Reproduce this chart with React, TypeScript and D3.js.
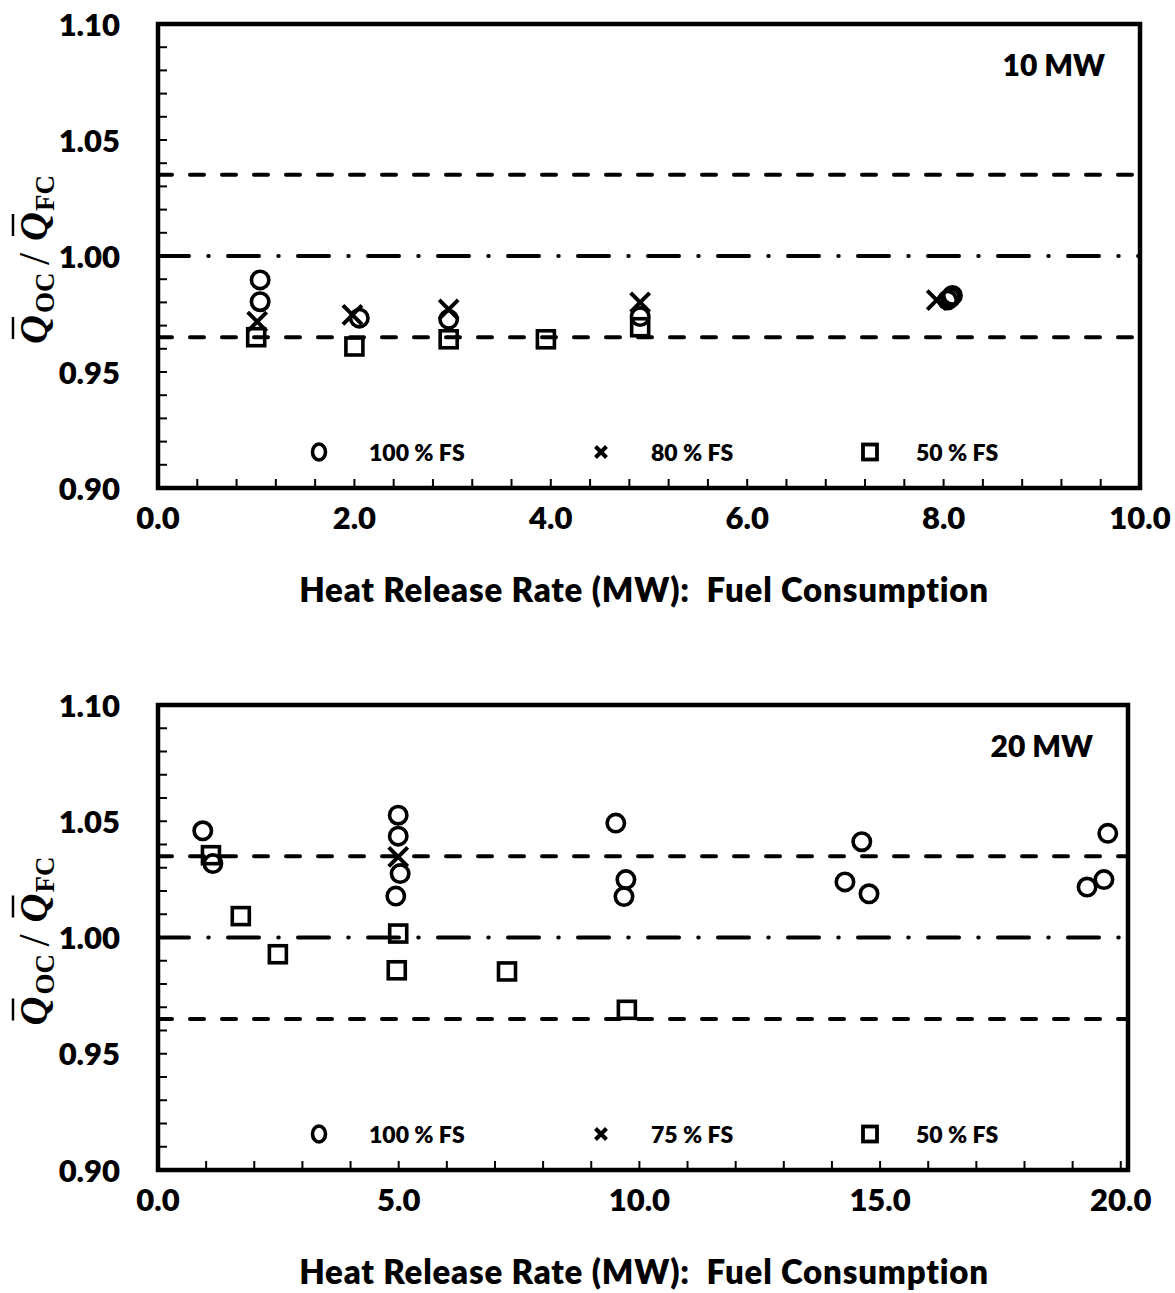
import React from 'react';
import * as d3 from 'd3';

// y axis (both panels)
const yTicks = [0.9, 0.95, 1.0, 1.05, 1.1];
const refLines = [1.035, 1.0, 0.965];

// 10 MW panel
const x10Ticks = [0, 2, 4, 6, 8, 10];
const hrr10_fs100 = [1.04, 1.04, 2.05, 2.96, 4.91, 8.04, 8.07, 8.09];
const ratio10_fs100 = [0.9897, 0.9803, 0.9732, 0.9727, 0.9739, 0.981, 0.982, 0.983];
const hrr10_fs80 = [1.01, 1.98, 2.96, 4.91, 7.93];
const ratio10_fs80 = [0.9717, 0.9746, 0.977, 0.98, 0.981];
const hrr10_fs50 = [1.0, 2.0, 2.96, 3.95, 4.91];
const ratio10_fs50 = [0.965, 0.961, 0.9641, 0.9641, 0.9693];

// 20 MW panel
const x20Ticks = [0, 5, 10, 15, 20];
const hrr20_fs100 = [0.93, 1.14, 4.99, 4.99, 5.03, 4.94, 9.51, 9.72, 9.68, 14.62, 14.27, 14.77, 19.73, 19.65, 19.3];
const ratio20_fs100 = [1.0459, 1.0318, 1.0526, 1.0436, 1.0275, 1.0178, 1.0492, 1.0249, 1.0176, 1.0412, 1.0239, 1.0188, 1.0448, 1.0249, 1.0217];
const hrr20_fs75 = [4.99];
const ratio20_fs75 = [1.0347];
const hrr20_fs50 = [1.1, 1.72, 2.49, 4.99, 4.96, 7.25, 9.74];
const ratio20_fs50 = [1.0354, 1.0092, 0.9928, 1.0017, 0.9859, 0.9854, 0.9689];

const font = 'Lato, "Open Sans", sans-serif';

const Circle = ({ cx, cy, r = 8.7 }) => (
  <circle cx={cx} cy={cy} r={r} fill="none" stroke="#000" strokeWidth={3.6} />
);
const Cross = ({ cx, cy, s = 9.5, w = 4 }) => (
  <path d={`M${cx - s},${cy - s}L${cx + s},${cy + s}M${cx - s},${cy + s}L${cx + s},${cy - s}`} stroke="#000" strokeWidth={w} />
);
const Square = ({ cx, cy, s = 17 }) => (
  <rect x={cx - s / 2} y={cy - s / 2} width={s} height={s} fill="none" stroke="#000" strokeWidth={3.6} />
);

const YTitle = ({ cy }) => (
  <g transform={`translate(47, ${cy}) rotate(-90)`} fontFamily='"Liberation Serif", "DejaVu Serif", serif' fill="#000">
    <text x={-88} y={0} fontSize={40} fontStyle="italic" fontWeight="bold">Q</text>
    <line x1={-83} x2={-61} y1={-34} y2={-34} stroke="#000" strokeWidth={2.5} />
    <text x={-57} y={7} fontSize={27} fontWeight="bold">OC</text>
    <text x={-9} y={2} fontSize={44}>/</text>
    <text x={15} y={0} fontSize={40} fontStyle="italic" fontWeight="bold">Q</text>
    <line x1={20} x2={42} y1={-34} y2={-34} stroke="#000" strokeWidth={2.5} />
    <text x={45} y={7} fontSize={27} fontWeight="bold">FC</text>
  </g>
);

const Panel = ({ top, bottom, right, xMax, xTicks, minorStep, xs, mwLabel, legend }) => {
  const left = 158;
  const x = d3.scaleLinear().domain([0, xMax]).range([left, right]);
  const y = d3.scaleLinear().domain([0.9, 1.1]).range([bottom, top]);
  const xMinor = d3.range(0, xMax + 1e-6, minorStep);
  const yMinor = d3.range(0.9, 1.1 + 1e-6, 0.01);
  const cy = y(1.0);
  return (
    <g>
      {/* reference lines */}
      <line x1={left} x2={right} y1={y(refLines[0])} y2={y(refLines[0])} stroke="#000" strokeWidth={4} strokeDasharray="14 18" strokeLinecap="round" />
      <line x1={left} x2={right} y1={y(refLines[2])} y2={y(refLines[2])} stroke="#000" strokeWidth={4} strokeDasharray="14 18" strokeLinecap="round" />
      <line x1={left} x2={right} y1={y(refLines[1])} y2={y(refLines[1])} stroke="#000" strokeWidth={4} strokeDasharray="31 19.25 0.5 19.25" strokeLinecap="round" />

      {/* ticks */}
      {xMinor.map((t, i) => (
        <line key={`xm${i}`} x1={x(t)} x2={x(t)} y1={bottom} y2={bottom - 9} stroke="#000" strokeWidth={2} />
      ))}
      {yMinor.map((t, i) => (
        <line key={`ym${i}`} x1={left} x2={left + 9} y1={y(t)} y2={y(t)} stroke="#000" strokeWidth={2} />
      ))}

      {/* frame */}
      <rect x={left} y={top} width={right - left} height={bottom - top} fill="none" stroke="#000" strokeWidth={4.5} />

      {/* data */}
      {xs.fs100[0].map((v, i) => <Circle key={`c${i}`} cx={x(v)} cy={y(xs.fs100[1][i])} />)}
      {xs.fsMid[0].map((v, i) => <Cross key={`x${i}`} cx={x(v)} cy={y(xs.fsMid[1][i])} />)}
      {xs.fs50[0].map((v, i) => <Square key={`s${i}`} cx={x(v)} cy={y(xs.fs50[1][i])} />)}

      {/* tick labels */}
      {yTicks.map(t => (
        <text key={`yl${t}`} x={120} y={y(t) + 11.5} textAnchor="end" fontFamily={font} fontWeight={800} fontSize={31}>{t.toFixed(2)}</text>
      ))}
      {xTicks.map(t => (
        <text key={`xl${t}`} x={x(t)} y={bottom + 41} textAnchor="middle" fontFamily={font} fontWeight={800} fontSize={31}>{t.toFixed(1)}</text>
      ))}

      <text x={644} y={bottom + 114} textAnchor="middle" fontFamily={font} fontWeight={800} fontSize={33} letterSpacing={0.8} style={{ whiteSpace: 'pre' }}>Heat Release Rate (MW):  Fuel Consumption</text>
      <text x={right - 35} y={top + 52} textAnchor="end" fontFamily={font} fontWeight={800} fontSize={30}>{mwLabel}</text>

      {/* legend */}
      <g fontFamily={font} fontWeight={800} fontSize={23}>
        <ellipse cx={319} cy={bottom - 36} rx={6.5} ry={8} fill="none" stroke="#000" strokeWidth={3.6} />
        <text x={369} y={bottom - 27.5} style={{ whiteSpace: 'pre' }}>{legend[0]}</text>
        <Cross cx={601} cy={bottom - 36} s={5.5} w={4} />
        <text x={651} y={bottom - 27.5} style={{ whiteSpace: 'pre' }}>{legend[1]}</text>
        <rect x={863} y={bottom - 43.5} width={14} height={15} fill="none" stroke="#000" strokeWidth={3.8} />
        <text x={916} y={bottom - 27.5} style={{ whiteSpace: 'pre' }}>{legend[2]}</text>
      </g>

      <YTitle cy={cy} />
    </g>
  );
};

export default function App() {
  return (
    <svg width={1175} height={1293} style={{ position: 'absolute', left: 0, top: 0, background: '#fff' }}>
      <rect width={1175} height={1293} fill="#fff" />
      <Panel
        top={24}
        bottom={488}
        right={1140}
        xMax={10}
        xTicks={x10Ticks}
        minorStep={0.4}
        xs={{ fs100: [hrr10_fs100, ratio10_fs100], fsMid: [hrr10_fs80, ratio10_fs80], fs50: [hrr10_fs50, ratio10_fs50] }}
        mwLabel="10 MW"
        legend={['100 % FS', '80 % FS', '50 % FS']}
      />
      <Panel
        top={705}
        bottom={1170}
        right={1128}
        xMax={20.15}
        xTicks={x20Ticks}
        minorStep={1}
        xs={{ fs100: [hrr20_fs100, ratio20_fs100], fsMid: [hrr20_fs75, ratio20_fs75], fs50: [hrr20_fs50, ratio20_fs50] }}
        mwLabel="20 MW"
        legend={['100 % FS', '75 % FS', '50 % FS']}
      />
    </svg>
  );
}
